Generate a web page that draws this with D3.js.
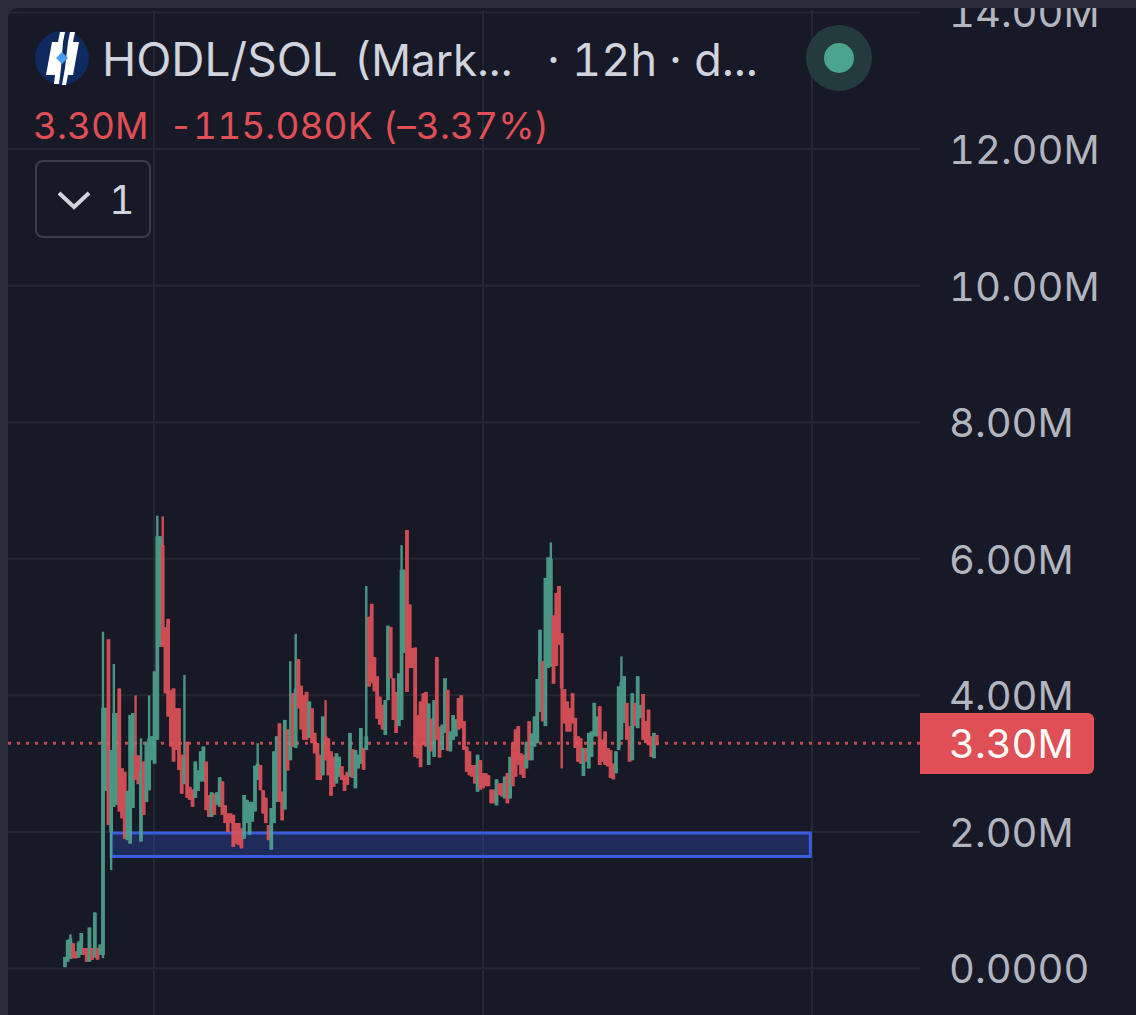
<!DOCTYPE html>
<html>
<head>
<meta charset="utf-8">
<script src="https://cdn.jsdelivr.net/npm/d3@7"></script>
<style>
  html, body { margin: 0; padding: 0; background: #2a2d39; }
  svg { display: block; font-family: Inter, "Noto Sans", sans-serif; font-variant-numeric: tabular-nums; }
</style>
</head>
<body>
<div id="chart"></div>
<script>
// HODL/SOL 12h candles, values in millions
const opens = [
  .02,.1,.14,.37,.25,.16,.2,.3,.3,.1,
  .3,.16,.3,.2,.2,2.6,4.82,2.0,2.37,2.4,
  4.1,2.93,2.88,1.88,1.83,2.35,3.12,3.12,1.86,3.03,
  2.44,2.61,3.05,3.0,3.35,4.71,6.2,5.0,5.12,4.08,
  4.1,3.81,3.81,3.13,2.7,3.32,2.66,2.62,2.5,2.6,
  2.74,2.74,3.03,2.54,2.22,2.56,2.4,2.37,2.74,2.39,
  2.27,2.27,2.25,2.13,2.13,2.05,1.9,2.13,1.96,2.15,
  2.3,2.76,2.98,2.61,2.5,2.1,1.74,2.13,2.44,3.59,
  2.59,2.33,3.5,3.05,4.03,3.23,4.53,4.14,4.0,4.05,
  3.38,3.81,3.45,3.3,3.13,2.83,3.4,3.37,3.18,3.1,
  2.71,2.81,2.96,2.83,2.88,2.81,3.21,2.64,2.93,3.0,
  3.23,3.2,5.15,5.34,4.56,4.28,3.98,3.86,3.42,3.93,
  5.0,4.25,4.05,3.55,3.64,4.62,6.42,5.33,4.69,4.7,
  3.71,3.91,4.03,4.05,2.98,3.66,3.1,4.56,3.54,3.2,
  3.45,4.08,3.18,3.35,3.4,3.96,4.0,3.62,3.25,3.18,
  2.98,2.98,2.59,3.05,2.86,2.86,2.83,2.62,2.62,2.39,
  2.71,2.71,2.49,2.86,2.49,3.31,3.5,3.55,3.15,3.13,
  2.93,3.62,3.05,3.25,3.3,3.76,4.5,3.55,4.4,4.42,
  5.17,5.5,5.6,4.91,4.09,3.91,3.81,4.03,3.67,3.4,
  3.37,2.82,3.23,2.93,3.1,3.4,3.4,3.84,3.35,3.47,
  3.23,3.2,3.0,2.86,3.2,3.35,3.6,3.89,3.55,3.05,
  3.89,3.52,3.67,4.02,3.62,3.79,3.4,3.08,3.42
];
const closes = [
  .17,.42,.44,.15,.15,.38,.52,.2,.1,.6,
  .13,.82,.13,.35,3.82,3.8,2.1,3.2,3.74,3.74,
  2.3,2.2,1.9,2.6,3.71,3.74,2.76,2.7,2.9,2.25,
  3.32,3.37,3.4,4.35,6.33,6.33,4.71,4.03,3.69,3.25,
  3.03,3.2,2.91,2.56,3.1,2.5,2.47,2.37,3.03,2.9,
  3.18,3.25,2.32,2.22,2.58,2.25,2.58,2.8,2.25,2.13,
  2.0,2.13,1.78,1.83,1.81,1.76,2.54,2.47,2.44,2.44,
  2.97,3.0,2.61,2.27,2.13,1.88,2.35,3.18,3.4,2.44,
  2.17,3.64,2.9,3.5,3.25,4.1,3.81,3.5,3.35,3.35,
  3.91,3.3,3.15,2.76,2.76,3.69,3.05,2.83,2.53,2.66,
  3.15,3.1,2.76,2.6,2.69,3.45,2.79,3.2,3.13,3.52,
  2.91,3.4,4.13,4.18,4.06,3.66,3.57,3.5,3.93,5.02,
  4.25,3.64,3.45,4.32,5.84,5.84,4.05,4.4,4.4,3.1,
  3.08,2.95,3.27,3.25,3.88,3.18,3.93,3.35,3.09,3.57,
  4.25,3.19,3.47,3.71,3.65,3.5,3.52,3.2,2.88,2.83,
  2.81,2.71,3.13,2.62,2.64,2.67,2.67,2.42,2.42,2.77,
  2.54,2.52,2.81,2.42,3.1,2.67,2.81,2.98,2.84,2.79,
  3.32,3.05,3.44,3.69,4.24,4.96,3.62,5.72,6.02,6.0,
  4.17,4.43,4.74,4.1,3.59,3.47,3.47,3.59,3.23,3.03,
  3.0,3.23,3.03,3.45,3.47,3.89,3.69,2.98,3.03,2.98,
  2.96,2.79,2.77,3.18,4.13,4.2,4.28,3.35,3.03,4.03,
  3.55,4.28,3.86,3.35,3.3,3.27,3.1,3.45,3.27
];
const highs = [
  .17,.42,.5,.37,.25,.4,.52,.3,.3,.6,
  .3,.82,.3,.35,4.93,3.82,4.82,3.2,4.46,3.74,
  4.1,2.93,2.88,2.6,3.71,3.74,4.0,3.12,3.37,3.03,
  3.32,4.0,3.4,4.35,6.63,6.33,6.62,5.0,5.12,4.08,
  4.1,3.81,3.81,3.13,4.3,3.32,2.66,2.62,3.03,2.9,
  3.18,3.25,3.03,2.54,2.58,2.56,2.58,2.8,2.74,2.39,
  2.27,2.27,2.25,2.13,2.13,2.05,2.54,2.47,2.44,2.44,
  2.97,3.3,2.98,2.61,2.5,2.1,2.35,3.18,3.4,3.59,
  2.59,3.64,3.5,4.5,4.03,4.9,4.53,4.14,4.0,4.05,
  3.91,3.81,3.45,3.3,3.13,3.69,3.93,3.37,3.18,3.1,
  3.15,3.1,2.96,2.83,2.88,3.45,3.21,3.2,3.13,3.52,
  3.23,5.6,5.15,5.34,4.56,4.28,3.98,3.86,3.93,5.02,
  5.0,4.25,4.05,4.32,6.2,5.84,6.42,5.33,4.69,4.7,
  3.71,3.91,4.03,4.05,3.88,3.66,3.93,4.56,3.54,3.57,
  4.25,4.08,3.47,3.71,3.65,3.96,4.0,3.62,3.25,3.18,
  2.98,2.98,3.13,3.05,2.86,2.86,2.83,2.62,2.62,2.77,
  2.71,2.71,2.81,2.86,3.1,3.31,3.5,3.55,3.15,3.13,
  3.32,3.62,3.44,3.69,4.24,4.96,4.5,5.72,6.02,6.24,
  5.17,5.5,5.6,4.91,4.09,3.91,3.81,4.03,3.67,3.4,
  3.37,3.23,3.23,3.45,3.47,3.89,3.69,3.84,3.35,3.47,
  3.23,3.2,3.0,3.18,4.13,4.57,4.28,3.89,3.55,4.03,
  3.89,4.28,3.86,4.02,3.62,3.79,3.4,3.45,3.42
];
const lows = [
  .02,.1,.14,.15,.15,.16,.2,.2,.1,.1,
  .13,.16,.13,.2,.15,2.6,2.1,1.44,2.37,2.4,
  2.3,2.2,1.9,1.88,1.83,2.35,2.76,2.7,1.86,2.25,
  2.44,2.61,3.05,3.0,3.35,4.71,4.71,4.03,3.69,3.25,
  3.03,3.2,2.91,2.56,2.7,2.5,2.47,2.37,2.5,2.6,
  2.74,2.74,2.32,2.22,2.22,2.25,2.4,2.37,2.25,2.13,
  2.0,2.13,1.78,1.83,1.81,1.76,1.9,2.13,1.96,2.15,
  2.3,2.76,2.61,2.27,2.13,1.88,1.74,2.13,2.44,2.44,
  2.17,2.33,2.9,3.05,3.25,3.23,3.81,3.5,3.35,3.35,
  3.38,3.3,3.15,2.76,2.76,2.83,3.05,2.83,2.53,2.66,
  2.71,2.81,2.76,2.6,2.69,2.81,2.79,2.64,2.93,3.0,
  2.91,3.2,4.13,4.18,4.06,3.66,3.57,3.5,3.42,3.93,
  4.25,3.64,3.45,3.55,3.64,4.62,4.05,4.4,4.4,3.1,
  3.08,2.95,3.27,3.25,2.98,3.18,3.1,3.35,3.09,3.2,
  3.45,3.19,3.18,3.35,3.4,3.5,3.52,3.2,2.88,2.83,
  2.81,2.71,2.59,2.62,2.64,2.67,2.67,2.42,2.42,2.39,
  2.54,2.52,2.49,2.42,2.49,2.67,2.81,2.98,2.84,2.79,
  2.93,3.05,3.05,3.25,3.3,3.76,3.62,3.55,4.4,4.42,
  4.17,4.43,4.74,2.93,3.59,3.47,3.47,3.59,3.23,3.03,
  3.0,2.82,3.03,2.93,3.1,3.4,3.4,2.98,3.03,2.98,
  2.96,2.79,2.77,2.86,3.2,3.35,3.6,3.35,3.03,3.05,
  3.55,3.52,3.67,3.35,3.3,3.27,3.1,3.08,3.27
];

const priceTicks = [0, 2, 4, 6, 8, 10, 12, 14];
const priceLabels = ["0.0000", "2.00M", "4.00M", "6.00M", "8.00M", "10.00M", "12.00M", "14.00M"];
const timeGrid = [32.8, 154, 275.2];   // candle index of the vertical grid lines
const lastPrice = 3.3;
const lastPriceLabel = "3.30M";
const zone = { from: 17, to: 274.6, top: 1.985, bottom: 1.64 };

const green = "#4fa48f";
const red = "#e2535a";

const width = 1136, height = 1015;
const svg = d3.select("#chart").append("svg").attr("width", width).attr("height", height);

const x = d3.scaleLinear().domain([0, opens.length - 1]).range([65, 656.7]);
const y = d3.scaleLinear().domain([0, 14]).range([968.5, 12.5]);

// panel
svg.append("rect").attr("x", 8).attr("y", 8).attr("width", 1140).attr("height", 1020)
  .attr("rx", 10).attr("fill", "#171a26");

// grid
svg.append("g").selectAll("line").data(priceTicks).enter().append("line")
  .attr("x1", 8).attr("x2", 920)
  .attr("y1", (d) => y(d)).attr("y2", (d) => y(d))
  .attr("stroke", "#252833").attr("stroke-width", 2);
svg.append("g").selectAll("line").data(timeGrid).enter().append("line")
  .attr("x1", (d) => x(d)).attr("x2", (d) => x(d))
  .attr("y1", 10).attr("y2", height)
  .attr("stroke", "#252833").attr("stroke-width", 2);

// price axis
const axis = d3.axisRight(y).tickValues(priceTicks).tickSize(0)
  .tickFormat((d, i) => priceLabels[i]);
const axisG = svg.append("g").attr("transform", "translate(949,0)").call(axis);
axisG.select(".domain").remove();
axisG.selectAll("text")
  .attr("x", 0).attr("dy", "0.36em")
  .attr("fill", "#b2b5be").style("font-size", "40px")
  .style("font-family", "Inter, sans-serif");

// support zone
svg.append("rect")
  .attr("x", x(zone.from)).attr("y", y(zone.top))
  .attr("width", x(zone.to) - x(zone.from)).attr("height", y(zone.bottom) - y(zone.top))
  .attr("fill", "#3254d8").attr("fill-opacity", 0.3)
  .attr("stroke", "#3a5ddc").attr("stroke-width", 3);

// last price line
svg.append("line")
  .attr("x1", 8).attr("x2", 920)
  .attr("y1", y(lastPrice)).attr("y2", y(lastPrice))
  .attr("stroke", red).attr("stroke-width", 3).attr("stroke-dasharray", "3 6")
  .attr("opacity", 0.85);

// candles
const candles = d3.range(opens.length);
const col = (i) => (closes[i] >= opens[i] ? green : red);
const candleG = svg.append("g").attr("opacity", 0.9);
candleG.selectAll("line").data(candles).enter().append("line")
  .attr("x1", (i) => x(i)).attr("x2", (i) => x(i))
  .attr("y1", (i) => y(highs[i])).attr("y2", (i) => y(lows[i]))
  .attr("stroke", col).attr("stroke-width", 2.4);
candleG.selectAll("rect").data(candles).enter().append("rect")
  .attr("x", (i) => x(i) - 1.9).attr("width", 3.8)
  .attr("y", (i) => y(Math.max(opens[i], closes[i])))
  .attr("height", (i) => Math.max(1, Math.abs(y(opens[i]) - y(closes[i]))))
  .attr("fill", col);

// last price tag
svg.append("path")
  .attr("d", "M920,713H1088a6,6 0 0 1 6,6V768a6,6 0 0 1 -6,6H920Z")
  .attr("fill", "#e04f55");
svg.append("text").attr("x", 949).attr("y", y(lastPrice)).attr("dy", "0.36em")
  .attr("fill", "#fff").style("font-size", "40px").text(lastPriceLabel);

// top strip hides the cut off 14.00M label
svg.append("rect").attr("width", width).attr("height", 8).attr("fill", "#2a2d39");

// legend
const logo = svg.append("g").attr("transform", "translate(62,58)");
logo.append("circle").attr("r", 27).attr("fill", "#0e2a5e");
logo.append("path").attr("d", "M-10,-16L-4,-16L-2,-26L3,-26L1,-16L-1,10L-3,26L-8,26L-7,17L-16,17Z").attr("fill", "#fff");
logo.append("path").attr("d", "M8,-26L13,-26L11,-16L17,-16L11,17L6,17L4,27L0,27L3,10L6,-16Z").attr("fill", "#fff");
logo.append("path").attr("d", "M0,-6L6,0L0,6L-6,0Z").attr("fill", "#4a9cf0");

const legendTitle = svg.append("g").attr("fill", "#d1d4dc").style("font-size", "46px");
legendTitle.append("text").attr("x", 102).attr("y", 76).text("HODL/SOL");
legendTitle.append("text").attr("x", 354).attr("y", 76).style("font-size", "44px").text("(Mark...");
legendTitle.append("text").attr("x", 547).attr("y", 76).style("font-size", "45px").text("· 12h · d...");

const legendPrice = svg.append("g").attr("fill", "#e04f55").style("font-size", "37px");
legendPrice.append("text").attr("x", 33).attr("y", 139).text("3.30M");
legendPrice.append("text").attr("x", 169).attr("y", 139).style("letter-spacing", "0.1px").text("-115.080K (–3.37%)");

// collapse button
svg.append("rect").attr("x", 36).attr("y", 161).attr("width", 114).attr("height", 76)
  .attr("rx", 7).attr("fill", "none").attr("stroke", "#3a3d48").attr("stroke-width", 2);
svg.append("path").attr("d", "M59,193L74,207L89,193").attr("fill", "none")
  .attr("stroke", "#d1d4dc").attr("stroke-width", 4);
svg.append("text").attr("x", 122).attr("y", 214).attr("text-anchor", "middle")
  .attr("fill", "#d1d4dc").style("font-size", "39px").text("1");

// status dot
svg.append("circle").attr("cx", 839).attr("cy", 58).attr("r", 33).attr("fill", "#243b3d");
svg.append("circle").attr("cx", 839).attr("cy", 58).attr("r", 15).attr("fill", "#4aa58c");
</script>
</body>
</html>
